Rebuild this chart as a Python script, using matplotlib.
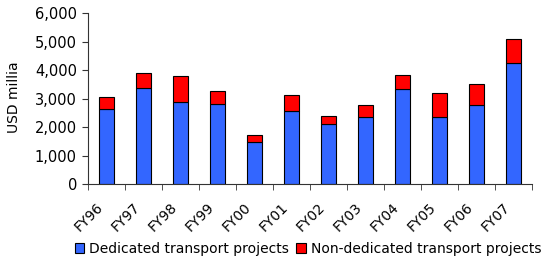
import numpy as np
import matplotlib.pyplot as plt
from matplotlib.transforms import ScaledTranslation

years = ['FY96', 'FY97', 'FY98', 'FY99', 'FY00', 'FY01',
         'FY02', 'FY03', 'FY04', 'FY05', 'FY06', 'FY07']
dedicated = [2625, 3360, 2870, 2800, 1490, 2555, 2100, 2345, 3340, 2345, 2765, 4255]
totals = [3070, 3890, 3785, 3260, 1735, 3115, 2400, 2765, 3820, 3185, 3505, 5075]
non_dedicated = [t - d for t, d in zip(totals, dedicated)]

plt.rcParams['font.family'] = ['DejaVu Sans']

fig = plt.figure(figsize=(5.53, 2.6), dpi=100)
ax = fig.add_axes([88 / 553, 1 - 184 / 260, (532 - 88) / 553, (184 - 13) / 260])

x = np.arange(len(years))
ax.bar(x, dedicated, width=0.4, color='#3366FF', edgecolor='black', linewidth=0.8,
       label='Dedicated transport projects')
ax.bar(x, non_dedicated, width=0.4, bottom=dedicated, color='#FF0000', edgecolor='black',
       linewidth=0.8, label='Non-dedicated transport projects')

ax.set_xlim(-0.5, len(years) - 0.5)
ax.set_ylim(0, 6000)
ax.set_yticks(range(0, 6001, 1000))
ax.set_yticklabels([f'{v:,}' for v in range(0, 6001, 1000)], fontsize=10.5)
ax.set_ylabel('USD millia', fontsize=10)
ax.yaxis.set_label_coords(-0.152, 0.51)

# labels near category centres, tick marks at the boundaries
ax.set_xticks(x)
ax.set_xticklabels(years, rotation=45, ha='right', va='center', rotation_mode='anchor',
                   fontsize=10)
ax.tick_params(axis='x', length=0, pad=0)
shift = ScaledTranslation(-4 / 72, -15 / 72, fig.dpi_scale_trans)
for lbl in ax.get_xticklabels():
    lbl.set_transform(lbl.get_transform() + shift)
ax.set_xticks(np.arange(-0.5, len(years)), minor=True)
ax.tick_params(axis='x', which='minor', length=4, color='#333333')
ax.tick_params(axis='y', length=4, color='#333333', pad=4)

for s in ['top', 'right']:
    ax.spines[s].set_visible(False)
for s in ['left', 'bottom']:
    ax.spines[s].set_color('#333333')

ax.legend(loc='center', bbox_to_anchor=(308 / 553, 1 - 249 / 260), bbox_transform=fig.transFigure,
          ncol=2, frameon=False, fontsize=10, handlelength=0.7, handleheight=0.7,
          handletextpad=0.35, columnspacing=0.5, borderaxespad=0.0, borderpad=0.0)

fig.savefig('out.png', dpi=100)
